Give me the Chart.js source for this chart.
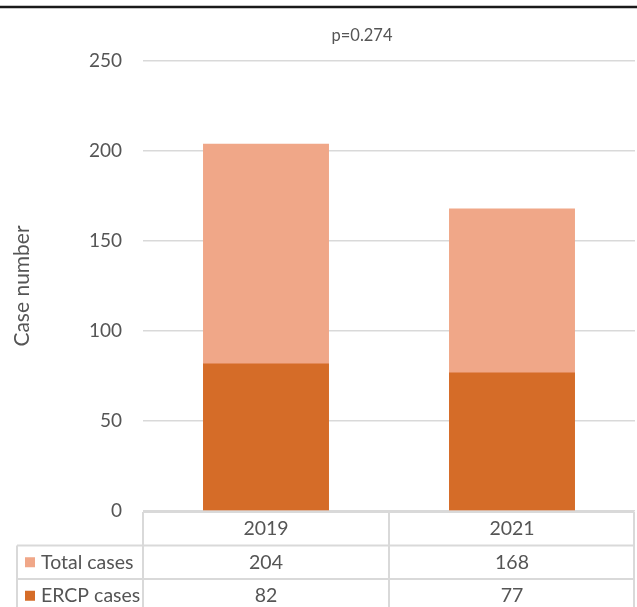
<!DOCTYPE html>
<html>
<head>
<meta charset="utf-8">
<script src="https://cdn.jsdelivr.net/npm/chart.js@4/dist/chart.umd.min.js"></script>
<style>
  html, body { margin: 0; padding: 0; background: #fff; }
  #wrap { width: 637px; height: 607px; }
</style>
</head>
<body>
<div id="wrap"><canvas id="c" width="637" height="607"></canvas></div>
<script>
// Case counts per year
const years = ['2019', '2021'];
const totalCases = [204, 168];
const ercpCases = [82, 77];
const seriesNames = ['Total cases', 'ERCP cases'];
const yTicks = [0, 50, 100, 150, 200, 250];
const pValueText = 'p=0.274';

const TEXT = '#555555';
const LINE = '#D9D9D9';
const LIGHT = '#F0A788';
const DARK = '#D56C28';
const FONT = 'Lato, "Noto Sans", sans-serif';

// Draws the heading rule, the p-value note and the data table under the bars
const decorations = {
  id: 'decorations',
  afterDraw(chart) {
    const ctx = chart.ctx;
    const area = chart.chartArea;
    const x = chart.scales.x;
    const W = chart.width;
    ctx.save();

    // rule across the top
    ctx.strokeStyle = '#1a1a1a';
    ctx.lineWidth = 2.5;
    ctx.beginPath();
    ctx.moveTo(0, 7);
    ctx.lineTo(W, 7);
    ctx.stroke();

    // p-value
    ctx.fillStyle = TEXT;
    ctx.font = '16.5px ' + FONT;
    ctx.textAlign = 'center';
    ctx.textBaseline = 'alphabetic';
    ctx.fillText(pValueText, 362, 41);

    // data table
    const top = area.bottom + 1;
    const rowH = 33.5;
    const left = 17;
    const colL = area.left;
    const colR = area.right - 1;
    const mid = (x.getPixelForValue(0) + x.getPixelForValue(1)) / 2;
    ctx.strokeStyle = LINE;
    ctx.lineWidth = 2;
    ctx.beginPath();
    ctx.moveTo(colL, top); ctx.lineTo(colR, top);
    for (let r = 1; r <= 3; r++) {
      ctx.moveTo(left, top + rowH * r); ctx.lineTo(colR, top + rowH * r);
    }
    ctx.moveTo(left, top + rowH); ctx.lineTo(left, top + rowH * 3 + 2);
    [colL, mid, colR].forEach(v => { ctx.moveTo(v, top); ctx.lineTo(v, top + rowH * 3 + 2); });
    ctx.stroke();

    ctx.font = '19.5px ' + FONT;
    ctx.fillStyle = TEXT;
    ctx.textBaseline = 'middle';
    ctx.textAlign = 'center';
    years.forEach((yr, i) => ctx.fillText(yr, x.getPixelForValue(i), top + rowH * 0.5));
    const rows = [totalCases, ercpCases];
    const colors = [LIGHT, DARK];
    rows.forEach((vals, r) => {
      const cy = top + rowH * (r + 1.5);
      vals.forEach((v, i) => {
        ctx.textAlign = 'center';
        ctx.fillText(String(v), x.getPixelForValue(i), cy);
      });
      ctx.fillStyle = colors[r];
      ctx.fillRect(25, cy - 5, 10, 10);
      ctx.fillStyle = TEXT;
      ctx.textAlign = 'left';
      ctx.fillText(seriesNames[r], 41, cy);
    });
    ctx.restore();
  }
};

new Chart(document.getElementById('c'), {
  type: 'bar',
  data: {
    labels: years,
    datasets: [
      { label: seriesNames[1], data: ercpCases, backgroundColor: DARK, order: 0 },
      { label: seriesNames[0], data: totalCases, backgroundColor: LIGHT, order: 1 }
    ]
  },
  options: {
    responsive: false,
    animation: false,
    events: [],
    layout: { padding: { top: 61, bottom: 96, right: 2, left: 0 } },
    datasets: { bar: { grouped: false, categoryPercentage: 1, barPercentage: 0.512 } },
    plugins: { legend: { display: false }, tooltip: { enabled: false } },
    scales: {
      x: { display: false },
      y: {
        min: 0, max: 250,
        afterBuildTicks(scale) { scale.ticks = yTicks.map(v => ({ value: v })); },
        afterFit(scale) { scale.width = 143; },
        border: { display: false },
        grid: { color: LINE, lineWidth: 1.5, drawTicks: false },
        ticks: { color: TEXT, font: { family: FONT, size: 19 }, padding: 21 },
        title: {
          display: true, text: 'Case number', color: TEXT,
          font: { family: FONT, size: 21 }, padding: { top: 10, bottom: 0 }
        }
      }
    }
  },
  plugins: [decorations]
});
</script>
</body>
</html>
